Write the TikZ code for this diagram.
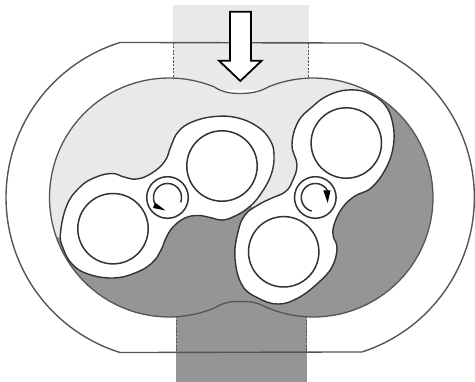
\documentclass[tikz,border=0pt]{standalone}
\usepackage{amsmath,amssymb}
\definecolor{cLight}{HTML}{E9E9E9}
\definecolor{cDark}{HTML}{959595}
\definecolor{cLine}{HTML}{333333}
\definecolor{cCase}{HTML}{555555}

\begin{document}
\begin{tikzpicture}[
    x=1pt, y=-1pt,
    casing/.style={draw=cCase, line width=1.4pt, line join=round},
    chamber/.style={draw=cCase, line width=1.3pt},
    seam/.style={draw=cCase, line width=1pt, dash pattern=on 2.2pt off 1.4pt},
    rotor/.style={draw=cLine, fill=white, line width=1.4pt},
    bore/.style={draw=cLine, fill=white, line width=1.5pt},
    spin/.style={draw=cLine, line width=1.5pt},
    inlet/.style={draw=black, fill=white, line width=1.8pt, line join=miter},
]
\useasboundingbox (0,0) rectangle (475,382);

% Parameters
\def\midY{197.5}    % horizontal axis of the housing
\def\caseR{162.4}   % radius of the casing arcs
\def\chamR{119.5}   % radius of the chamber arcs
\def\boreR{35.2}    % radius of the rotor lobes
\def\hubR{20.8}     % radius of the hub ring
\def\spinR{14}      % radius of the rotation arrow

\def\chamberpath{
    plot[domain=68:292, samples=70] ({169+\chamR*cos(\x)},{\midY-\chamR*sin(\x)})
    .. controls (225,301.5) and (232,301.5) .. (240,301.5)
    .. controls (250,301.5) and (257,302) .. (266.8,307.5)
    -- plot[domain=247:472, samples=70] ({313.5+\chamR*cos(\x)},{\midY-\chamR*sin(\x)})
    .. controls (260,92) and (250,93.5) .. (240,93.5)
    .. controls (230,93.5) and (222,92) .. (213.8,86.7)
}

% =============================================
% PORTS AND FILLED CHAMBER
% =============================================

\fill[cLight] (173,5) rectangle (308.7,90);
\fill[cDark] (176,300) rectangle (306.7,382);

\fill[cLight] \chamberpath -- cycle;
\begin{scope}
    \clip \chamberpath -- cycle;
    \fill[cDark] (-5,248) -- (113,228) -- (222,166) -- (252,207) -- (284,252)
        -- (346,143) -- (384,103) -- (445,60) -- (480,400) -- (-5,400) -- cycle;
\end{scope}

% =============================================
% CASING
% =============================================

\draw[casing]
    plot[domain=107.3:252.7, samples=60] ({168.4+\caseR*cos(\x)},{\midY-\caseR*sin(\x)})
    -- plot[domain=-72:72, samples=60] ({312+\caseR*cos(\x)},{\midY-\caseR*sin(\x)})
    -- cycle;

\draw[seam] (173,42.5) -- (173,79);
\draw[seam] (308.7,42.5) -- (308.7,79);
\draw[seam] (176,316) -- (176,352);
\draw[seam] (306.7,316) -- (306.7,352);

% =============================================
% ROTORS
% =============================================

% left rotor
\draw[rotor] plot[smooth cycle, tension=0.7] coordinates {
    (60.5,233) (67,205) (80,187) (95,177.5) (112,173.5) (124,177) (137,179)
    (152,173) (165,161) (171,146) (178,132) (192,122) (215,116.5) (238,118)
    (258,127) (270,140) (274,155) (271,175) (260,195) (248,208) (234,216.5)
    (222,220) (210,217.5) (198,215.5) (185,218) (173,227) (166,238) (161,250)
    (152,263) (135,273) (113,278) (88,274) (72,264) (63,248)
};

% right rotor
\draw[rotor] plot[smooth cycle, tension=0.7] coordinates {
    (292,145) (298,122) (312,107) (328,95.5) (348,90) (368,93) (385,105)
    (393,125) (393,148) (385,170) (371,188) (355,196) (343,207) (335,222)
    (333,235) (337,248) (332,267) (318,283) (298,298) (278,304) (258,298)
    (242,285) (235,258) (238,232) (245,215) (258,205) (272,198) (285,192)
    (292,182) (297,165)
};

\draw[chamber] \chamberpath -- cycle;

% lobes
\foreach \cx/\cy in {113/228.7, 222/166, 346.3/143, 283.7/251.8} {
    \draw[bore] (\cx,\cy) circle (\boreR);
}

% =============================================
% HUBS WITH ROTATION ARROWS
% =============================================

\draw[bore] (167.5,\midY) circle (\hubR);
\draw[spin] plot[domain=-20:205, samples=50] ({167.5+\spinR*cos(\x)},{\midY-\spinR*sin(\x)});
\fill[black] (155,202.5) -- (153,208) -- (165.5,210.5) -- cycle;

\draw[bore] (315.3,\midY) circle (\hubR);
\draw[spin] plot[domain=28:255, samples=50] ({315.3+\spinR*cos(\x)},{\midY-\spinR*sin(\x)});
\fill[black] (323.3,190.5) -- (330.5,190.5) -- (327.7,203) -- cycle;

% =============================================
% INLET ARROW
% =============================================

\draw[inlet] (230,11.7) -- (251,11.7) -- (251,60.7) -- (261.7,60.7)
    -- (240.3,81) -- (219,60.7) -- (230,60.7) -- cycle;

\end{tikzpicture}
\end{document}
